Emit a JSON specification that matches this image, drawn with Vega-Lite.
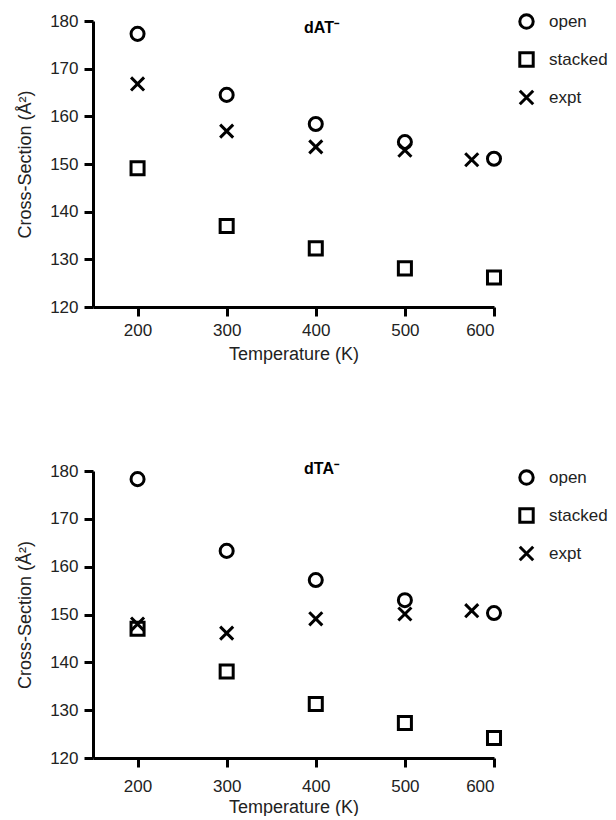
{
  "$schema": "https://vega.github.io/schema/vega-lite/v6.json",
  "padding": {"left": 16, "top": 12, "right": 0, "bottom": 0},
  "background": "white",
  "config": {
    "view": {"stroke": null},
    "font": "Liberation Sans",
    "axis": {
      "grid": false,
      "domainColor": "black",
      "domainWidth": 3,
      "tickColor": "black",
      "tickWidth": 3,
      "tickSize": 9,
      "labelColor": "#222",
      "labelFontSize": 17,
      "labelPadding": 6,
      "titleColor": "#222",
      "titleFontSize": 18,
      "titleFontWeight": "normal"
    },
    "legend": {
      "labelFontSize": 17,
      "labelColor": "#222",
      "padding": 0
    }
  },
  "datasets": {
    "dAT": [
      {"T": 200, "CS": 177.3, "series": "open"},
      {"T": 300, "CS": 164.5, "series": "open"},
      {"T": 400, "CS": 158.4, "series": "open"},
      {"T": 500, "CS": 154.6, "series": "open"},
      {"T": 600, "CS": 151.1, "series": "open"},
      {"T": 200, "CS": 149.1, "series": "stacked"},
      {"T": 300, "CS": 137.0, "series": "stacked"},
      {"T": 400, "CS": 132.3, "series": "stacked"},
      {"T": 500, "CS": 128.1, "series": "stacked"},
      {"T": 600, "CS": 126.2, "series": "stacked"},
      {"T": 200, "CS": 166.8, "series": "expt"},
      {"T": 300, "CS": 156.9, "series": "expt"},
      {"T": 400, "CS": 153.6, "series": "expt"},
      {"T": 500, "CS": 152.9, "series": "expt"},
      {"T": 575, "CS": 150.9, "series": "expt"}
    ],
    "dTA": [
      {"T": 200, "CS": 178.3, "series": "open"},
      {"T": 300, "CS": 163.3, "series": "open"},
      {"T": 400, "CS": 157.2, "series": "open"},
      {"T": 500, "CS": 153.0, "series": "open"},
      {"T": 600, "CS": 150.3, "series": "open"},
      {"T": 200, "CS": 147.0, "series": "stacked"},
      {"T": 300, "CS": 138.1, "series": "stacked"},
      {"T": 400, "CS": 131.3, "series": "stacked"},
      {"T": 500, "CS": 127.3, "series": "stacked"},
      {"T": 600, "CS": 124.2, "series": "stacked"},
      {"T": 200, "CS": 148.0, "series": "expt"},
      {"T": 300, "CS": 146.1, "series": "expt"},
      {"T": 400, "CS": 149.1, "series": "expt"},
      {"T": 500, "CS": 150.1, "series": "expt"},
      {"T": 575, "CS": 150.8, "series": "expt"}
    ]
  },
  "spacing": 98,
  "resolve": {"legend": {"shape": "independent", "strokeWidth": "independent"}},
  "vconcat": [
    {
      "width": 401,
      "height": 286,
      "data": {"name": "dAT"},
      "title": {"text": "dAT⁻", "fontSize": 16, "fontWeight": "bold", "color": "black", "frame": "group", "anchor": "middle", "dx": 28, "offset": -24},
      "mark": {"type": "point", "filled": false, "color": "black", "size": 170, "opacity": 1, "strokeWidth": 3},
      "encoding": {
        "x": {"field": "T", "type": "quantitative", "scale": {"domain": [150, 600], "nice": false, "zero": false},
              "axis": {"values": [200, 300, 400, 500, 600], "title": "Temperature (K)", "labelPadding": 6, "titlePadding": 7, "domainWidth": 3, "tickWidth": 3, "domainColor": "black", "tickColor": "black"}},
        "y": {"field": "CS", "type": "quantitative", "scale": {"domain": [120, 180], "nice": false, "zero": false},
              "axis": {"values": [120, 130, 140, 150, 160, 170, 180], "title": "Cross-Section (Å²)", "labelPadding": 6, "titlePadding": 15, "domainWidth": 3, "tickWidth": 3, "domainColor": "black", "tickColor": "black"}},
        "shape": {"field": "series", "type": "nominal",
                  "scale": {"domain": ["open", "stacked", "expt"], "range": ["circle", "square", "M-1,-1L1,1M1,-1L-1,1"]},
                  "legend": {"title": null, "orient": "none", "legendX": 425, "legendY": -8, "rowPadding": 11, "symbolSize": 180, "labelOffset": 14, "symbolStrokeColor": "black"}},
        "strokeWidth": {"field": "series", "type": "ordinal",
                  "scale": {"domain": ["open", "stacked", "expt"], "range": [3, 3, 4.5]},
                  "legend": {"title": null, "orient": "none", "legendX": 425, "legendY": -8, "rowPadding": 11, "symbolSize": 180, "labelOffset": 14, "symbolStrokeColor": "black"}}
      }
    },
    {
      "width": 401,
      "height": 287,
      "data": {"name": "dTA"},
      "title": {"text": "dTA⁻", "fontSize": 16, "fontWeight": "bold", "color": "black", "frame": "group", "anchor": "middle", "dx": 28, "offset": -15},
      "mark": {"type": "point", "filled": false, "color": "black", "size": 170, "opacity": 1, "strokeWidth": 3},
      "encoding": {
        "x": {"field": "T", "type": "quantitative", "scale": {"domain": [150, 600], "nice": false, "zero": false},
              "axis": {"values": [200, 300, 400, 500, 600], "title": "Temperature (K)", "labelPadding": 11, "titlePadding": 4, "domainWidth": 3, "tickWidth": 3, "domainColor": "black", "tickColor": "black"}},
        "y": {"field": "CS", "type": "quantitative", "scale": {"domain": [120, 180], "nice": false, "zero": false},
              "axis": {"values": [120, 130, 140, 150, 160, 170, 180], "title": "Cross-Section (Å²)", "labelPadding": 6, "titlePadding": 15, "domainWidth": 3, "tickWidth": 3, "domainColor": "black", "tickColor": "black"}},
        "shape": {"field": "series", "type": "nominal",
                  "scale": {"domain": ["open", "stacked", "expt"], "range": ["circle", "square", "M-1,-1L1,1M1,-1L-1,1"]},
                  "legend": {"title": null, "orient": "none", "legendX": 425, "legendY": -2, "rowPadding": 11, "symbolSize": 180, "labelOffset": 14, "symbolStrokeColor": "black"}},
        "strokeWidth": {"field": "series", "type": "ordinal",
                  "scale": {"domain": ["open", "stacked", "expt"], "range": [3, 3, 4.5]},
                  "legend": {"title": null, "orient": "none", "legendX": 425, "legendY": -2, "rowPadding": 11, "symbolSize": 180, "labelOffset": 14, "symbolStrokeColor": "black"}}
      }
    }
  ]
}
